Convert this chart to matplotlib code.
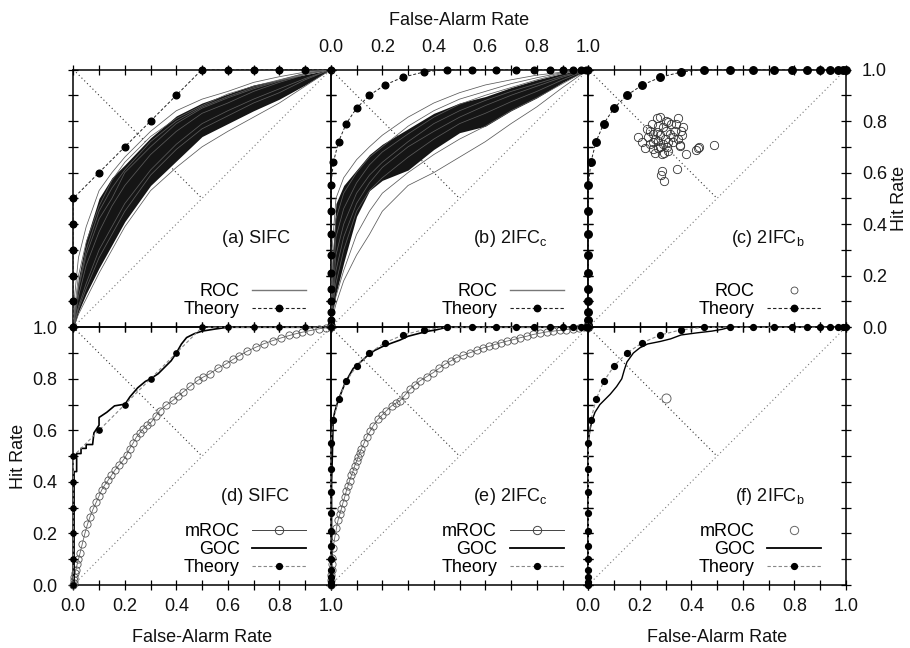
import numpy as np
import matplotlib
matplotlib.use('Agg')
import matplotlib.pyplot as plt
from matplotlib.lines import Line2D

plt.rcParams['font.family'] = ['Liberation Sans', 'DejaVu Sans']
plt.rcParams['mathtext.fontset'] = 'custom'
plt.rcParams['mathtext.rm'] = 'Liberation Sans'
plt.rcParams['mathtext.it'] = 'Liberation Sans'
plt.rcParams['font.size'] = 13

# ---------------- data ----------------
diag = [0, 1]
anti_x = [0, 0.5]
anti_y = [1, 0.5]

# theory, SIFC
theory1_fa = [0, 0, 0, 0, 0, 0, 0.1, 0.2, 0.3, 0.4, 0.5, 0.6, 0.7, 0.8, 0.9, 1.0]
theory1_hit = [0, 0.1, 0.2, 0.3, 0.4, 0.5, 0.6, 0.7, 0.8, 0.9, 1, 1, 1, 1, 1, 1]

# theory, 2IFC
theory2_fa = [0, 0, 0, 0, 0, 0, 0, 0, 0, 0, 0,
              0.01, 0.03, 0.06, 0.1, 0.15, 0.21, 0.28, 0.36, 0.45,
              0.55, 0.64, 0.72, 0.79, 0.85, 0.9, 0.94, 0.97, 0.99, 1.0]
theory2_hit = [0, 0.01, 0.03, 0.06, 0.1, 0.15, 0.21, 0.28, 0.36, 0.45, 0.55,
               0.64, 0.72, 0.79, 0.85, 0.9, 0.94, 0.97, 0.99, 1,
               1, 1, 1, 1, 1, 1, 1, 1, 1, 1]

# ROC bundles (a) and (b)
roc_fa = [0, 0.005, 0.02, 0.05, 0.1, 0.15, 0.2, 0.3, 0.4, 0.5, 0.6, 0.7, 0.8, 0.9, 1.0]

core_hi_a = [0, 0.06, 0.19, 0.34, 0.50, 0.58, 0.63, 0.735, 0.82, 0.87, 0.905, 0.94, 0.96, 0.98, 1]
core_lo_a = [0, 0.01, 0.06, 0.13, 0.23, 0.32, 0.41, 0.55, 0.645, 0.74, 0.79, 0.84, 0.885, 0.94, 1]
roc_a = [
    [0, 0.12, 0.27, 0.39, 0.53, 0.60, 0.66, 0.76, 0.84, 0.885, 0.915, 0.95, 0.972, 0.99, 1],
    [0, 0.07, 0.20, 0.33, 0.47, 0.57, 0.64, 0.74, 0.81, 0.86, 0.905, 0.935, 0.96, 0.985, 1],
    [0, 0.03, 0.12, 0.24, 0.37, 0.47, 0.55, 0.67, 0.76, 0.83, 0.87, 0.915, 0.95, 0.98, 1],
    [0, 0.02, 0.08, 0.17, 0.30, 0.39, 0.48, 0.61, 0.71, 0.79, 0.84, 0.885, 0.925, 0.965, 1],
    [0, 0.01, 0.05, 0.11, 0.21, 0.30, 0.39, 0.53, 0.62, 0.70, 0.76, 0.815, 0.87, 0.935, 1],
    [0, 0.04, 0.15, 0.28, 0.42, 0.50, 0.60, 0.70, 0.79, 0.85, 0.89, 0.925, 0.955, 0.982, 1],
    [0, 0.015, 0.07, 0.15, 0.27, 0.36, 0.45, 0.59, 0.69, 0.77, 0.82, 0.87, 0.91, 0.96, 1],
    [0, 0.05, 0.16, 0.30, 0.45, 0.54, 0.61, 0.72, 0.80, 0.855, 0.895, 0.93, 0.958, 0.985, 1],
]

core_hi_b = [0, 0.25, 0.48, 0.55, 0.61, 0.67, 0.71, 0.77, 0.83, 0.87, 0.895, 0.93, 0.96, 0.985, 1]
core_lo_b = [0, 0.05, 0.13, 0.25, 0.43, 0.53, 0.57, 0.61, 0.69, 0.755, 0.78, 0.84, 0.89, 0.95, 1]
roc_b = [
    [0, 0.30, 0.50, 0.58, 0.65, 0.70, 0.745, 0.815, 0.87, 0.91, 0.94, 0.96, 0.978, 0.99, 1],
    [0, 0.20, 0.42, 0.52, 0.60, 0.66, 0.70, 0.78, 0.84, 0.885, 0.915, 0.945, 0.968, 0.988, 1],
    [0, 0.10, 0.28, 0.40, 0.52, 0.59, 0.64, 0.72, 0.79, 0.84, 0.88, 0.915, 0.945, 0.975, 1],
    [0, 0.06, 0.17, 0.30, 0.45, 0.53, 0.58, 0.66, 0.73, 0.79, 0.83, 0.875, 0.915, 0.96, 1],
    [0, 0.03, 0.09, 0.18, 0.28, 0.36, 0.45, 0.55, 0.60, 0.66, 0.72, 0.79, 0.855, 0.93, 1],
    [0, 0.15, 0.35, 0.46, 0.56, 0.63, 0.68, 0.75, 0.815, 0.865, 0.90, 0.93, 0.96, 0.985, 1],
    [0, 0.04, 0.12, 0.22, 0.36, 0.45, 0.52, 0.60, 0.67, 0.73, 0.78, 0.84, 0.89, 0.945, 1],
    [0, 0.08, 0.22, 0.35, 0.48, 0.56, 0.62, 0.70, 0.76, 0.815, 0.86, 0.90, 0.935, 0.97, 1],
]

# ROC points (c)
roc_c_fa = [0.194, 0.22, 0.227, 0.24, 0.246, 0.253, 0.266, 0.266, 0.272, 0.278,
            0.285, 0.29, 0.298, 0.304, 0.31, 0.317, 0.33, 0.337, 0.35, 0.356,
            0.363, 0.369, 0.343, 0.38, 0.42, 0.427, 0.49, 0.285, 0.284, 0.294,
            0.26, 0.294, 0.357, 0.43, 0.23, 0.25, 0.26, 0.27, 0.28, 0.29,
            0.30, 0.31, 0.32, 0.33, 0.28, 0.25, 0.24, 0.30, 0.27, 0.35,
            0.34, 0.21, 0.31, 0.36]
roc_c_hit = [0.737, 0.696, 0.77, 0.71, 0.79, 0.692, 0.81, 0.757, 0.724, 0.815,
             0.673, 0.776, 0.73, 0.70, 0.796, 0.75, 0.718, 0.763, 0.81, 0.705,
             0.744, 0.776, 0.614, 0.673, 0.686, 0.696, 0.708, 0.608, 0.59, 0.569,
             0.675, 0.675, 0.708, 0.70, 0.74, 0.75, 0.73, 0.78, 0.745, 0.71,
             0.76, 0.72, 0.79, 0.74, 0.70, 0.72, 0.76, 0.80, 0.695, 0.73,
             0.79, 0.72, 0.685, 0.76]

# mROC (d)
mroc_d_fa = [0, 0.001, 0.002, 0.004, 0.007, 0.01, 0.015, 0.02, 0.026, 0.035,
             0.045, 0.055, 0.065, 0.077, 0.09, 0.1, 0.11, 0.122, 0.135, 0.148,
             0.161, 0.177, 0.194, 0.207, 0.219, 0.232, 0.245, 0.258, 0.271, 0.287,
             0.303, 0.32, 0.335, 0.36, 0.387, 0.405, 0.426, 0.455, 0.484, 0.505,
             0.529, 0.56, 0.594, 0.62, 0.645, 0.675, 0.71, 0.74, 0.774, 0.805,
             0.839, 0.865, 0.89, 0.92, 0.955, 0.98, 1.0]
mroc_d_hit = [0, 0.008, 0.018, 0.03, 0.045, 0.06, 0.08, 0.1, 0.123, 0.16,
              0.2, 0.235, 0.265, 0.295, 0.323, 0.345, 0.368, 0.388, 0.406, 0.425,
              0.445, 0.465, 0.484, 0.505, 0.529, 0.55, 0.574, 0.59, 0.606, 0.62,
              0.632, 0.655, 0.677, 0.697, 0.716, 0.732, 0.748, 0.772, 0.794, 0.807,
              0.819, 0.84, 0.858, 0.875, 0.89, 0.907, 0.923, 0.936, 0.948, 0.958,
              0.968, 0.975, 0.981, 0.987, 0.994, 0.998, 1.0]

# GOC (d)
goc_d_fa = [0, 0.003, 0.003, 0.013, 0.013, 0.03, 0.03, 0.05, 0.05, 0.075, 0.08,
            0.1, 0.1, 0.13, 0.16, 0.19, 0.2, 0.22, 0.25, 0.28, 0.3, 0.33, 0.35,
            0.38, 0.4, 0.42, 0.44, 0.47, 0.5, 0.55, 0.6, 1.0]
goc_d_hit = [0, 0, 0.44, 0.44, 0.51, 0.51, 0.53, 0.53, 0.545, 0.545, 0.59,
             0.62, 0.65, 0.67, 0.695, 0.70, 0.70, 0.73, 0.765, 0.79, 0.80, 0.82, 0.84,
             0.87, 0.90, 0.935, 0.96, 0.975, 0.985, 0.993, 1.0, 1.0]

# mROC (e)
mroc_e_fa = [0, 0.001, 0.002, 0.003, 0.004, 0.005, 0.009, 0.016, 0.022, 0.028,
             0.035, 0.041, 0.047, 0.054, 0.06, 0.067, 0.073, 0.08, 0.087, 0.093,
             0.1, 0.106, 0.112, 0.119, 0.129, 0.139, 0.152, 0.165, 0.184, 0.2,
             0.216, 0.236, 0.252, 0.268, 0.288, 0.307, 0.326, 0.346, 0.372, 0.398,
             0.42, 0.443, 0.466, 0.488, 0.514, 0.54, 0.566, 0.592, 0.615, 0.637,
             0.66, 0.683, 0.71, 0.734, 0.76, 0.786, 0.812, 0.838, 0.864, 0.89,
             0.915, 0.94, 0.965, 0.99, 1.0]
mroc_e_hit = [0, 0.02, 0.04, 0.06, 0.08, 0.103, 0.145, 0.187, 0.22, 0.251,
              0.274, 0.296, 0.318, 0.341, 0.364, 0.386, 0.405, 0.425, 0.444, 0.463,
              0.48, 0.495, 0.512, 0.528, 0.55, 0.573, 0.596, 0.618, 0.644, 0.66,
              0.676, 0.695, 0.705, 0.714, 0.737, 0.759, 0.776, 0.792, 0.808, 0.824,
              0.84, 0.856, 0.869, 0.882, 0.891, 0.901, 0.91, 0.92, 0.926, 0.933,
              0.94, 0.946, 0.952, 0.959, 0.965, 0.972, 0.977, 0.982, 0.985, 0.988,
              0.991, 0.995, 0.997, 1.0, 1.0]

# GOC (e)
goc_e_fa = [0, 0.003, 0.003, 0.006, 0.009, 0.015, 0.028, 0.04, 0.054, 0.07, 0.087,
            0.11, 0.139, 0.17, 0.203, 0.24, 0.268, 0.3, 0.346, 0.38, 0.41, 0.45, 1.0]
goc_e_hit = [0, 0, 0.40, 0.5, 0.64, 0.67, 0.714, 0.745, 0.78, 0.81, 0.84,
             0.86, 0.887, 0.91, 0.926, 0.94, 0.95, 0.965, 0.977, 0.985, 0.99, 1.0, 1.0]

# mROC (f): a single point
mroc_f_fa = [0.30]
mroc_f_hit = [0.726]

# GOC (f)
goc_f_fa = [0, 0.0, 0.006, 0.015, 0.026, 0.045, 0.065, 0.085, 0.11, 0.13, 0.14,
            0.15, 0.175, 0.2, 0.23, 0.28, 0.32, 0.36, 0.42, 0.48, 0.52, 0.55, 1.0]
goc_f_hit = [0, 0.55, 0.6, 0.64, 0.67, 0.7, 0.72, 0.74, 0.77, 0.80, 0.835,
             0.865, 0.90, 0.92, 0.935, 0.945, 0.955, 0.97, 0.978, 0.985, 0.992, 1.0, 1.0]

# ---------------- layout ----------------
fig = plt.figure(figsize=(9.1, 6.48), dpi=100)
W = 257.5 / 910
H = 257.75 / 648
L0 = 73.3 / 910
B_bot = 1 - 585 / 648
B_top = B_bot + H

axs = {}
for row, bottom in enumerate([B_top, B_bot]):
    for col in range(3):
        ax = fig.add_axes([L0 + col * W, bottom, W, H])
        ax.patch.set_visible(False)
        axs[(row, col)] = ax

TXT = '#111111'
for ax in axs.values():
    ax.set_xlim(0, 1)
    ax.set_ylim(0, 1)
    ax.set_xticks(np.arange(0, 1.01, 0.2))
    ax.set_yticks(np.arange(0, 1.01, 0.2))
    ax.set_xticks(np.arange(0.1, 1.0, 0.2), minor=True)
    ax.set_yticks(np.arange(0.1, 1.0, 0.2), minor=True)
    ax.xaxis.set_major_formatter('{x:.1f}')
    ax.yaxis.set_major_formatter('{x:.1f}')
    ax.tick_params(which='both', direction='inout', length=7, width=0.9,
                   top=True, right=True, bottom=True, left=True,
                   labelbottom=False, labelleft=False, labelcolor=TXT)
    ax.tick_params(axis='x', which='both', pad=6)
    ax.tick_params(axis='y', which='both', pad=8)
    for s in ax.spines.values():
        s.set_linewidth(1.1)
    ax.plot(diag, diag, color='#777777', lw=0.8, ls=(0, (1, 2.5)), zorder=1)
    ax.plot(anti_x, anti_y, color='#333333', lw=0.8, ls=(0, (1, 2.5)), zorder=1)

dash = (0, (3, 2))

# (a)
ax = axs[(0, 0)]
ax.fill_between(roc_fa, core_lo_a, core_hi_a, color='#151515', lw=0, zorder=2)
for curve in roc_a:
    ax.plot(roc_fa, curve, color='#5a5a5a', lw=0.55, zorder=3)
ax.plot(theory1_fa, theory1_hit, color='#222222', lw=0.7, ls=dash, marker='o', ms=4.8,
        mfc='k', mec='k', clip_on=False, zorder=5)

# (b)
ax = axs[(0, 1)]
ax.fill_between(roc_fa, core_lo_b, core_hi_b, color='#151515', lw=0, zorder=2)
for curve in roc_b:
    ax.plot(roc_fa, curve, color='#5a5a5a', lw=0.55, zorder=3)
ax.plot(theory2_fa, theory2_hit, color='#222222', lw=0.7, ls=dash, marker='o', ms=4.8,
        mfc='k', mec='k', clip_on=False, zorder=5)

# (c)
ax = axs[(0, 2)]
ax.plot(roc_c_fa, roc_c_hit, ls='none', marker='o', ms=6, mfc='none', mec='#333333',
        mew=0.6, zorder=3)
ax.plot(theory2_fa, theory2_hit, color='#222222', lw=0.7, ls=dash, marker='o', ms=5.4,
        mfc='k', mec='k', clip_on=False, zorder=5)

# (d)
ax = axs[(1, 0)]
ax.plot(mroc_d_fa, mroc_d_hit, color='#666666', lw=0.6, marker='o', ms=5.2, mfc='none',
        mec='#555555', mew=0.6, clip_on=False, zorder=3)
ax.plot(goc_d_fa, goc_d_hit, color='k', lw=1.2, zorder=4)
ax.plot(theory1_fa, theory1_hit, color='#888888', lw=0.8, ls=dash, marker='o', ms=3.8,
        mfc='k', mec='k', clip_on=False, zorder=5)

# (e)
ax = axs[(1, 1)]
ax.plot(mroc_e_fa, mroc_e_hit, color='#666666', lw=0.6, marker='o', ms=5.2, mfc='none',
        mec='#555555', mew=0.6, clip_on=False, zorder=3)
ax.plot(goc_e_fa, goc_e_hit, color='k', lw=1.2, zorder=4)
ax.plot(theory2_fa, theory2_hit, color='#888888', lw=0.8, ls=dash, marker='o', ms=4.2,
        mfc='k', mec='k', clip_on=False, zorder=5)

# (f)
ax = axs[(1, 2)]
ax.plot(mroc_f_fa, mroc_f_hit, ls='none', marker='o', ms=6.5, mfc='none', mec='#666666',
        mew=0.7, zorder=3)
ax.plot(goc_f_fa, goc_f_hit, color='k', lw=1.0, zorder=4)
ax.plot(theory2_fa, theory2_hit, color='#888888', lw=0.8, ls=dash, marker='o', ms=4.2,
        mfc='k', mec='k', clip_on=False, zorder=5)

# panel titles
titles = ['(a) SIFC', '(b) 2IFC$_\\mathrm{c}$', '(c) 2IFC$_\\mathrm{b}$',
          '(d) SIFC', '(e) 2IFC$_\\mathrm{c}$', '(f) 2IFC$_\\mathrm{b}$']
for i, key in enumerate([(0, 0), (0, 1), (0, 2), (1, 0), (1, 1), (1, 2)]):
    axs[key].text(0.84, 0.345, titles[i], transform=axs[key].transAxes,
                  ha='right', va='center', color=TXT, zorder=6)

# legends
roc_line = Line2D([], [], color='#777777', lw=1.0)
roc_circ = Line2D([], [], ls='none', marker='o', ms=5, mfc='none', mec='#444444', mew=0.6)
th_top = Line2D([], [], color='#222222', lw=0.8, ls=dash, marker='o', ms=4.6, mfc='k', mec='k')
mroc_line = Line2D([], [], color='#444444', lw=0.7, marker='o', ms=6, mfc='none',
                   mec='#444444', mew=0.7)
mroc_circ = Line2D([], [], ls='none', marker='o', ms=6, mfc='none', mec='#666666', mew=0.7)
goc_line = Line2D([], [], color='k', lw=1.3)
th_bot = Line2D([], [], color='#888888', lw=0.8, ls=dash, marker='o', ms=4.2, mfc='k', mec='k')

leg_kw = dict(loc='lower right', frameon=False, markerfirst=False, handlelength=3.0,
              handletextpad=0.7, labelspacing=0.05, borderpad=0, borderaxespad=0)
axs[(0, 0)].legend([roc_line, th_top], ['ROC', 'Theory'], bbox_to_anchor=(0.905, 0.035), **leg_kw)
axs[(0, 1)].legend([roc_line, th_top], ['ROC', 'Theory'], bbox_to_anchor=(0.905, 0.035), **leg_kw)
axs[(0, 2)].legend([roc_circ, th_top], ['ROC', 'Theory'], bbox_to_anchor=(0.905, 0.035), **leg_kw)
axs[(1, 0)].legend([mroc_line, goc_line, th_bot], ['mROC', 'GOC', 'Theory'],
                   bbox_to_anchor=(0.905, 0.035), **leg_kw)
axs[(1, 1)].legend([mroc_line, goc_line, th_bot], ['mROC', 'GOC', 'Theory'],
                   bbox_to_anchor=(0.905, 0.035), **leg_kw)
axs[(1, 2)].legend([mroc_circ, goc_line, th_bot], ['mROC', 'GOC', 'Theory'],
                   bbox_to_anchor=(0.905, 0.035), **leg_kw)

# tick labels and axis labels
ax = axs[(0, 1)]
ax.tick_params(labeltop=True)
ax.xaxis.set_label_position('top')
ax.set_xlabel('False-Alarm Rate', color=TXT, labelpad=10)

ax = axs[(0, 2)]
ax.tick_params(labelright=True)
ax.yaxis.set_label_position('right')
ax.set_ylabel('Hit Rate', color=TXT, labelpad=3)

ax = axs[(1, 0)]
ax.tick_params(labelleft=True, labelbottom=True)
ax.set_xlabel('False-Alarm Rate', color=TXT, labelpad=10)
ax.set_ylabel('Hit Rate', color=TXT, labelpad=4)

ax = axs[(1, 2)]
ax.tick_params(labelbottom=True)
ax.set_xlabel('False-Alarm Rate', color=TXT, labelpad=10)

fig.savefig('out.png', dpi=100)
